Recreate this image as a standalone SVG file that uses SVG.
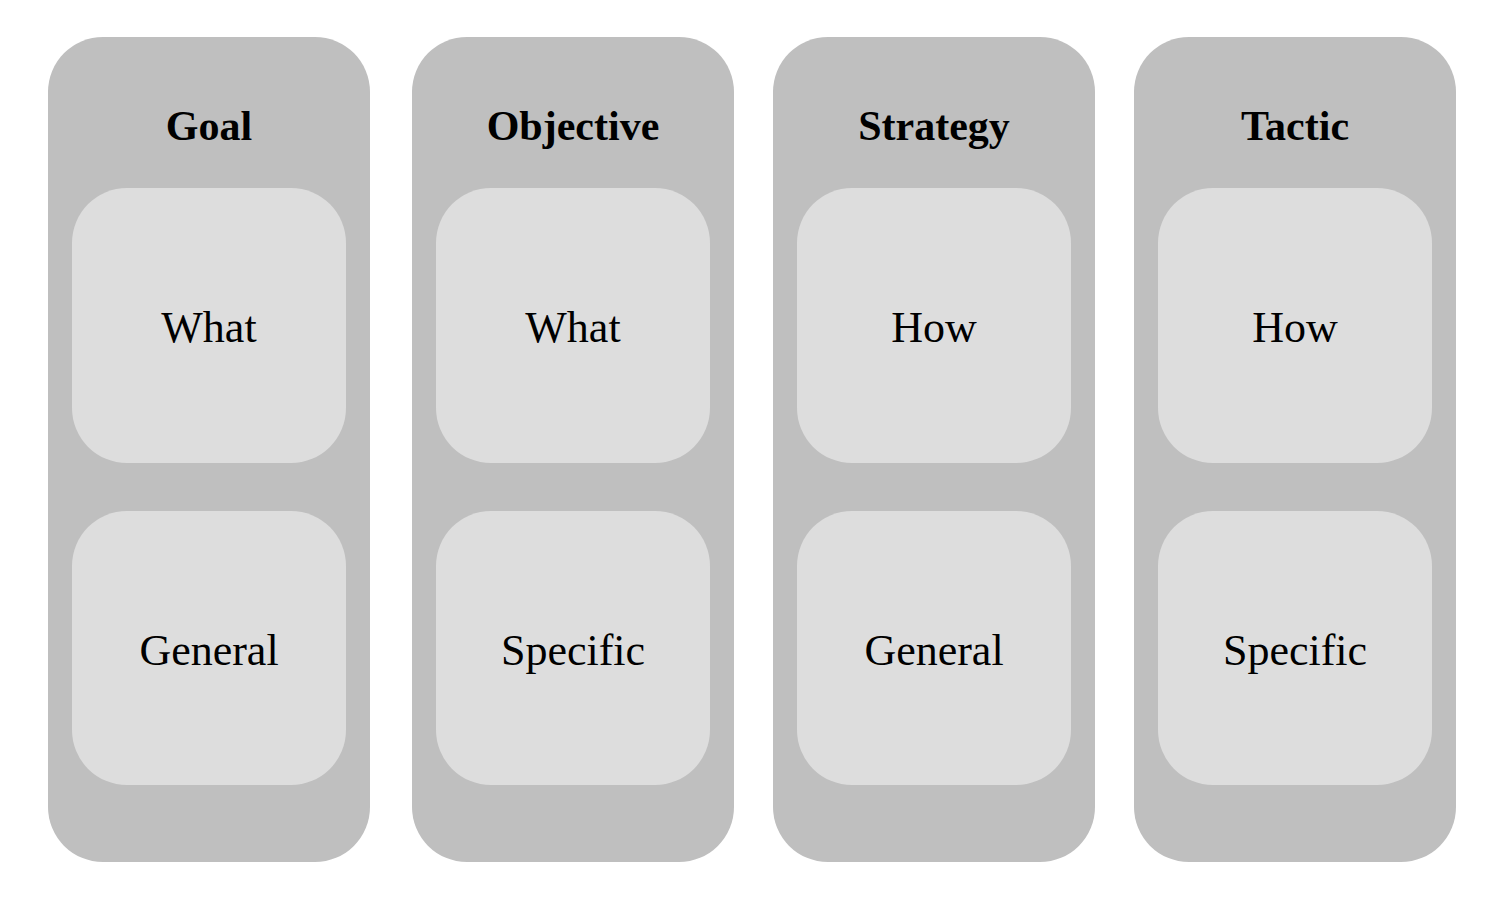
<svg xmlns="http://www.w3.org/2000/svg" width="1500" height="902" viewBox="0 0 1500 902">
<style>
.col{fill:#bfbfbf}
.box{fill:#dddddd}
.t{font-family:"Liberation Serif",serif;font-weight:bold;font-size:42px;fill:#000;text-anchor:middle}
.l{font-family:"Liberation Serif",serif;font-size:44px;fill:#000;text-anchor:middle}
</style>
<rect width="1500" height="902" fill="#fff"/>
<g id="goal">
<rect class="col" x="48" y="37" width="322" height="825" rx="55"/>
<text class="t" x="209" y="140">Goal</text>
<g id="goal-what"><rect class="box" x="72" y="188" width="274" height="275" rx="55"/><text class="l" x="209" y="342">What</text></g>
<g id="goal-general"><rect class="box" x="72" y="511" width="274" height="274" rx="55"/><text class="l" x="209" y="665">General</text></g>
</g>
<g id="objective">
<rect class="col" x="412" y="37" width="322" height="825" rx="55"/>
<text class="t" x="573" y="140">Objective</text>
<g id="objective-what"><rect class="box" x="436" y="188" width="274" height="275" rx="55"/><text class="l" x="573" y="342">What</text></g>
<g id="objective-specific"><rect class="box" x="436" y="511" width="274" height="274" rx="55"/><text class="l" x="573" y="665">Specific</text></g>
</g>
<g id="strategy">
<rect class="col" x="773" y="37" width="322" height="825" rx="55"/>
<text class="t" x="934" y="140">Strategy</text>
<g id="strategy-how"><rect class="box" x="797" y="188" width="274" height="275" rx="55"/><text class="l" x="934" y="342">How</text></g>
<g id="strategy-general"><rect class="box" x="797" y="511" width="274" height="274" rx="55"/><text class="l" x="934" y="665">General</text></g>
</g>
<g id="tactic">
<rect class="col" x="1134" y="37" width="322" height="825" rx="55"/>
<text class="t" x="1295" y="140">Tactic</text>
<g id="tactic-how"><rect class="box" x="1158" y="188" width="274" height="275" rx="55"/><text class="l" x="1295" y="342">How</text></g>
<g id="tactic-specific"><rect class="box" x="1158" y="511" width="274" height="274" rx="55"/><text class="l" x="1295" y="665">Specific</text></g>
</g>
<g id="connectors"></g>
</svg>
